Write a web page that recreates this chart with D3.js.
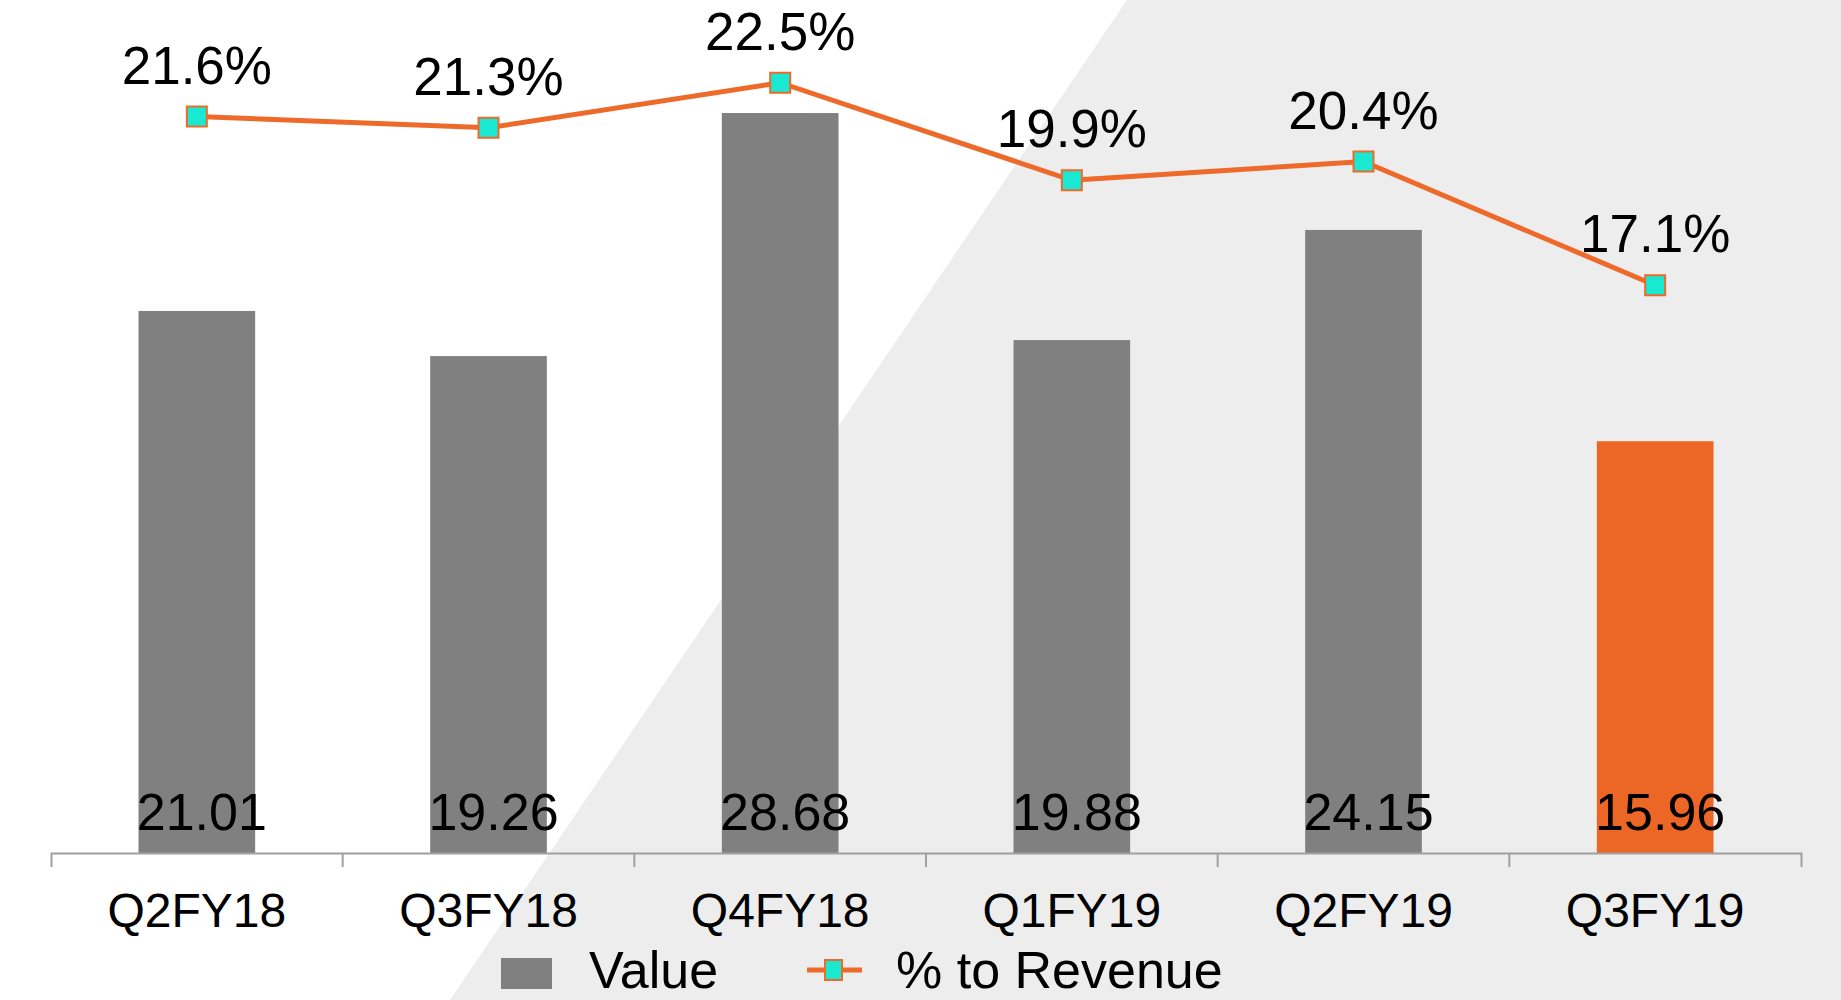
<!DOCTYPE html>
<html>
<head>
<meta charset="utf-8">
<script src="https://cdn.jsdelivr.net/npm/d3@7"></script>
<style>
  body { margin: 0; background: #fff; }
  text { font-family: "Liberation Sans", Arial, sans-serif; fill: #000; }
</style>
</head>
<body>
<div id="chart"></div>
<script>
// chart data
const quarters = ['Q2FY18', 'Q3FY18', 'Q4FY18', 'Q1FY19', 'Q2FY19', 'Q3FY19']
const values = [21.01, 19.26, 28.68, 19.88, 24.15, 15.96]
const pctRevenue = [21.6, 21.3, 22.5, 19.9, 20.4, 17.1]
const legendLabels = ['Value', '% to Revenue']

;(function () {
  const width = 1841
  const height = 1000

  const svg = d3.select('#chart').append('svg')
    .attr('width', width)
    .attr('height', height)

  // the diagonal grey panel on the right side
  svg.append('rect').attr('width', width).attr('height', height).attr('fill', '#fff')
  svg.append('polygon')
    .attr('points', '1127,0 1841,0 1841,1000 450,1000')
    .attr('fill', '#EDEDED')

  const baseY = 853

  const xPositionScale = d3.scaleBand()
    .domain(quarters)
    .range([51, 1801])
    .padding(0)

  // bars: ~25.8px per unit
  const yPositionScale = d3.scaleLinear()
    .domain([0, 30])
    .range([baseY, baseY - 30 * 25.8])

  // secondary axis for the % line
  const pctScale = d3.scaleLinear()
    .domain([15, 25])
    .range([364, -11])

  const barWidth = xPositionScale.bandwidth() * 0.4
  const rows = quarters.map((q, i) => ({ q: q, value: values[i], pct: pctRevenue[i], last: i === quarters.length - 1 }))
  const cx = d => xPositionScale(d.q) + xPositionScale.bandwidth() / 2

  svg.selectAll('.bar')
    .data(rows)
    .join('rect')
    .attr('class', 'bar')
    .attr('x', d => cx(d) - barWidth / 2)
    .attr('y', d => yPositionScale(d.value))
    .attr('width', barWidth)
    .attr('height', d => baseY - yPositionScale(d.value))
    .attr('fill', d => d.last ? '#EC6625' : '#808080')

  // value labels sit at the bottom of each bar
  svg.selectAll('.value-label')
    .data(rows)
    .join('text')
    .attr('class', 'value-label')
    .attr('x', d => cx(d) + 5)
    .attr('y', 830)
    .attr('text-anchor', 'middle')
    .attr('font-size', 52)
    .text(d => d.value.toFixed(2))

  // x axis, ticks between the categories
  const xAxis = d3.axisBottom(xPositionScale)
    .tickSize(0)
    .tickSizeOuter(14)
    .tickPadding(40)
  const axisG = svg.append('g')
    .attr('class', 'axis x-axis')
    .attr('transform', 'translate(0,' + baseY + ')')
    .call(xAxis)
  axisG.select('.domain').attr('stroke', '#A0A0A0').attr('stroke-width', 2)
  axisG.selectAll('text')
    .attr('font-size', 48)
    .attr('font-family', '"Liberation Sans", Arial, sans-serif')
    .attr('fill', '#000')
  axisG.selectAll('.sep')
    .data(quarters.slice(1))
    .join('line')
    .attr('class', 'sep')
    .attr('x1', d => xPositionScale(d))
    .attr('x2', d => xPositionScale(d))
    .attr('y1', 0)
    .attr('y2', 14)
    .attr('stroke', '#A0A0A0')
    .attr('stroke-width', 2)

  // % to revenue line
  const line = d3.line()
    .x(d => cx(d))
    .y(d => pctScale(d.pct))

  svg.append('path')
    .datum(rows)
    .attr('d', line)
    .attr('fill', 'none')
    .attr('stroke', '#EE6A2A')
    .attr('stroke-width', 5)

  svg.selectAll('.marker')
    .data(rows)
    .join('rect')
    .attr('class', 'marker')
    .attr('x', d => cx(d) - 10)
    .attr('y', d => pctScale(d.pct) - 10)
    .attr('width', 20)
    .attr('height', 20)
    .attr('fill', '#19E8D2')
    .attr('stroke', '#EE6A2A')
    .attr('stroke-width', 2)

  svg.selectAll('.pct-label')
    .data(rows)
    .join('text')
    .attr('class', 'pct-label')
    .attr('x', d => cx(d))
    .attr('y', d => pctScale(d.pct) - 33)
    .attr('text-anchor', 'middle')
    .attr('font-size', 53)
    .text(d => d.pct.toFixed(1) + '%')

  // legend (kept just inside the bottom edge)
  const legend = svg.append('g')
  legend.append('rect')
    .attr('x', 501)
    .attr('y', 958)
    .attr('width', 51)
    .attr('height', 31)
    .attr('fill', '#808080')
  legend.append('text')
    .attr('x', 589)
    .attr('y', 988)
    .attr('font-size', 52)
    .text(legendLabels[0])
  legend.append('line')
    .attr('x1', 807)
    .attr('x2', 862)
    .attr('y1', 970)
    .attr('y2', 970)
    .attr('stroke', '#EE6A2A')
    .attr('stroke-width', 5)
  legend.append('rect')
    .attr('x', 825)
    .attr('y', 960)
    .attr('width', 17)
    .attr('height', 20)
    .attr('fill', '#19E8D2')
    .attr('stroke', '#EE6A2A')
    .attr('stroke-width', 2)
  legend.append('text')
    .attr('x', 896)
    .attr('y', 988)
    .attr('font-size', 52)
    .text(legendLabels[1])
})();
</script>
</body>
</html>
